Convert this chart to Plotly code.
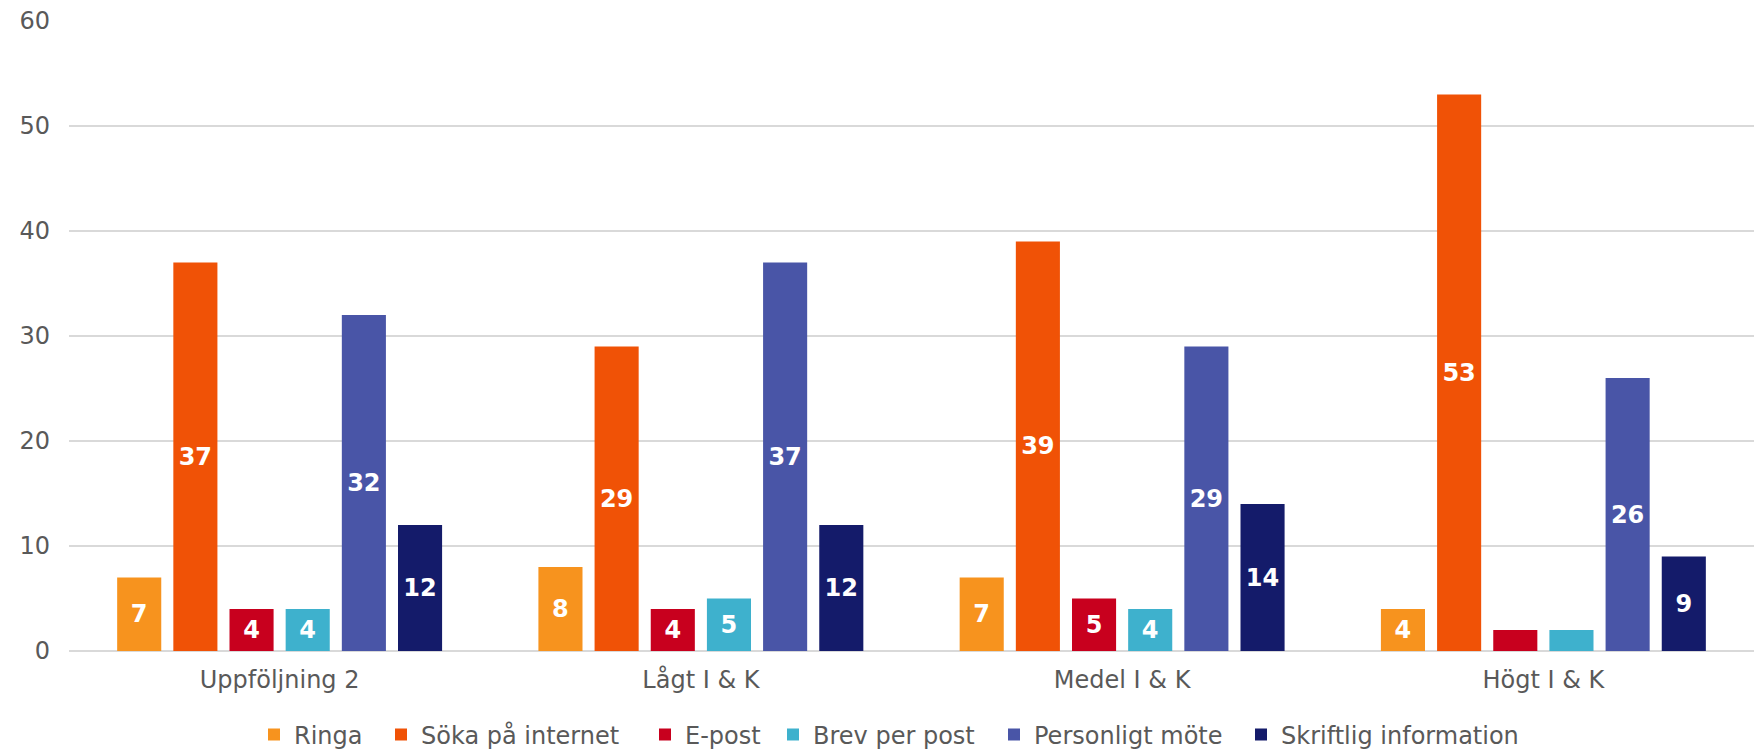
import plotly.graph_objects as go

categories = ["Uppföljning 2", "Lågt I & K", "Medel I & K", "Högt I & K"]
series_names = ["Ringa", "Söka på internet", "E-post", "Brev per post",
                "Personligt möte", "Skriftlig information"]
ringa = [7, 8, 7, 4]
soka = [37, 29, 39, 53]
epost = [4, 4, 5, 2]
brev = [4, 5, 4, 2]
mote = [32, 37, 29, 26]
skriftlig = [12, 12, 14, 9]
colors = ["#F7931E", "#F05206", "#C8001E", "#3EB1CD", "#4955A7", "#141B6A"]
y_ticks = [0, 10, 20, 30, 40, 50, 60]

FONT = "DejaVu Sans, Verdana, sans-serif"
GREY = "#595959"
W, H = 1754, 750

# left edge (px) of each legend entry's text along the bottom row
legend_text_x = [296, 423, 687, 815, 1036, 1283]

fig = go.Figure()
legend_layout = {}
for i, (name, vals, col) in enumerate(zip(series_names,
                                          [ringa, soka, epost, brev, mote, skriftlig],
                                          colors)):
    # labels on very short bars are left out
    labels = [str(v) if v > 2 else "" for v in vals]
    key = "legend" if i == 0 else f"legend{i + 1}"
    fig.add_trace(go.Bar(
        x=categories, y=vals, name=name, legend=key,
        marker=dict(color=col, line=dict(width=0)),
        text=labels, textposition="inside", insidetextanchor="middle",
        textangle=0, constraintext="none",
        textfont=dict(family=FONT, size=24, color="white", weight="bold"),
        hoverinfo="skip",
    ))
    legend_layout[key] = dict(
        orientation="h", xref="container", yref="container",
        x=(legend_text_x[i] - 42) / W, xanchor="left",
        y=0.02, yanchor="middle",
        font=dict(size=24, color=GREY), itemclick=False,
        bgcolor="rgba(0,0,0,0)", borderwidth=0,
    )

fig.update_layout(
    width=W, height=H,
    margin=dict(l=69, r=0, t=21, b=99, autoexpand=False),
    paper_bgcolor="white", plot_bgcolor="white",
    barmode="group", bargap=0.2, bargroupgap=0.215,
    font=dict(family=FONT, size=24, color=GREY),
    showlegend=True,
    xaxis=dict(showgrid=False, showline=False, ticks="",
               ticklabelstandoff=12,
               tickfont=dict(size=24, color=GREY)),
    yaxis=dict(range=[0, 60], tickvals=y_ticks, showgrid=True,
               gridcolor="#D9D9D9", gridwidth=2, zeroline=True,
               zerolinecolor="#D9D9D9", zerolinewidth=2,
               showline=False, ticks="", ticklabelstandoff=18,
               tickfont=dict(size=24, color=GREY)),
    **legend_layout,
)

fig.write_html("out.html")
